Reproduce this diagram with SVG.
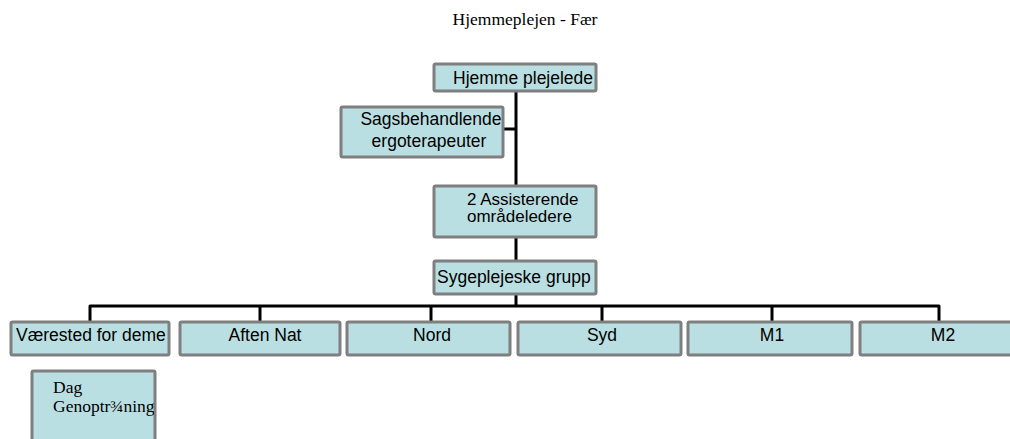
<svg xmlns="http://www.w3.org/2000/svg" width="1010" height="439" viewBox="0 0 1010 439">
<style>
.box{fill:#badfe2;stroke:#7f7f7f;stroke-width:3}
.t{font-family:"Liberation Sans",Arial,sans-serif;font-size:17.5px;fill:#000}
.t2{font-family:"Liberation Sans",Arial,sans-serif;font-size:17px;fill:#000}
.s{font-family:"Liberation Serif","Times New Roman",serif;font-size:17.5px;fill:#000}
.ln{fill:none;stroke:#000;stroke-width:3;stroke-linejoin:round}
</style>
<defs>
<clipPath id="c1"><rect x="434" y="64" width="161" height="26"/></clipPath>
<clipPath id="c2"><rect x="342" y="108" width="160" height="48"/></clipPath>
<clipPath id="c4"><rect x="434" y="262" width="161" height="31"/></clipPath>
<clipPath id="c5"><rect x="12" y="323" width="156" height="31"/></clipPath>
<clipPath id="c11"><rect x="33" y="372" width="121" height="67"/></clipPath>
</defs>
<text class="s" x="525" y="25" text-anchor="middle">Hjemmeplejen - Fær</text>
<g id="connectors">
<path class="ln" d="M516 91V186M516 237V261M516 294V306M503 129H516"/>
<path class="ln" d="M90 322V306H939V322M260 306V322M431 306V322M602 306V322M772 306V322"/>
</g>
<g id="n1"><rect class="box" x="434" y="64" width="162" height="27" rx="1.5"/><text class="t" x="453" y="84" clip-path="url(#c1)">Hjemme plejelede</text></g>
<g id="n2"><rect class="box" x="341" y="107" width="162" height="50" rx="1.5"/><g clip-path="url(#c2)"><text class="t" x="431" y="125" text-anchor="middle">Sagsbehandlende</text><text class="t" x="429" y="147" text-anchor="middle">ergoterapeuter</text></g></g>
<g id="n3"><rect class="box" x="434" y="186" width="162" height="51" rx="1.5"/><text class="t2" x="467" y="204.5">2 Assisterende</text><text class="t2" x="467" y="222">områdeledere</text></g>
<g id="n4"><rect class="box" x="434" y="261" width="162" height="33" rx="1.5"/><text class="t" x="437" y="283" clip-path="url(#c4)">Sygeplejeske grupp</text></g>
<g id="n5"><rect class="box" x="11" y="322" width="158" height="33" rx="1.5"/><text class="t" x="16" y="341" clip-path="url(#c5)">Værested for deme</text></g>
<g id="n6"><rect class="box" x="180" y="322" width="160" height="33" rx="1.5"/><text class="t" x="265" y="341" text-anchor="middle">Aften Nat</text></g>
<g id="n7"><rect class="box" x="347" y="322" width="163" height="33" rx="1.5"/><text class="t" x="432" y="341" text-anchor="middle">Nord</text></g>
<g id="n8"><rect class="box" x="518" y="322" width="163" height="33" rx="1.5"/><text class="t" x="602" y="341" text-anchor="middle">Syd</text></g>
<g id="n9"><rect class="box" x="688" y="322" width="164" height="33" rx="1.5"/><text class="t" x="772" y="341" text-anchor="middle">M1</text></g>
<g id="n10"><rect class="box" x="860" y="322" width="164" height="33" rx="1.5"/><text class="t" x="943" y="341" text-anchor="middle">M2</text></g>
<g id="n11"><rect class="box" x="32" y="371" width="123" height="80" rx="1.5"/><g clip-path="url(#c11)"><text class="s" x="53" y="393">Dag</text><text class="s" x="53" y="412">Genoptr¾ning</text></g></g>
</svg>
